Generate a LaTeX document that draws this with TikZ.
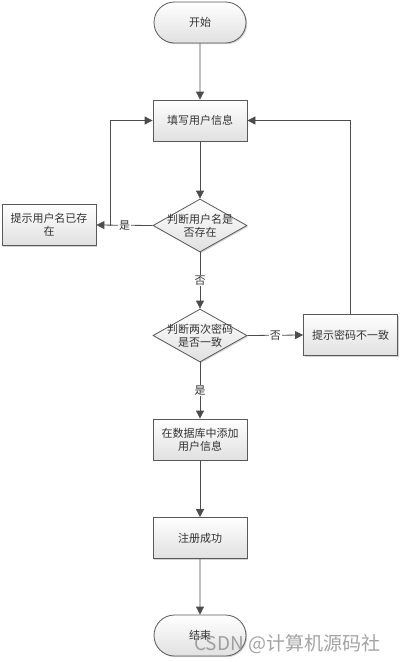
\documentclass[tikz,border=0pt]{standalone}
\usepackage{fontspec}
\setmainfont{Noto Sans CJK SC}
\usetikzlibrary{shapes.geometric,shapes.misc,arrows.meta,shadows}
\tikzset{
  base/.style={draw=black!65, line width=0.8pt, top color=white, bottom color=black!12,
    drop shadow={shadow xshift=1.2pt, shadow yshift=-1.2pt, opacity=0.35, fill=black!50},
    font=\fontsize{11}{13}\selectfont, align=center, inner sep=1pt, text=black!80},
  proc/.style={base, rectangle, minimum width=94pt, minimum height=41pt},
  term/.style={base, rounded rectangle, minimum width=94pt, minimum height=41pt},
  dec/.style={base, diamond, minimum width=94pt, minimum height=53pt, inner sep=0pt},
  txt/.style={font=\fontsize{11}{13}\selectfont, align=center, text=black!80},
  conn/.style={draw=black!70, line width=0.8pt, -{Triangle[length=8pt,width=8pt]}},
  lab/.style={fill=white, font=\fontsize{11}{13}\selectfont, text=black!80, inner sep=1pt},
}
\begin{document}
\begin{tikzpicture}[x=1pt,y=-1pt]
\useasboundingbox (0,0) rectangle (402,662);
\node[term] (start) at (200,22.5) {开始};
\node[proc] (fill) at (200,120.5) {填写用户信息};
\node[dec] (d1) at (200,225.5) {};
\node[txt] at (d1) {判断用户名是\\否存在};
\node[proc] (exist) at (49,225) {提示用户名已存\\在};
\node[dec] (d2) at (200,335.5) {};
\node[txt] at (d2) {判断两次密码\\是否一致};
\node[proc] (mismatch) at (350.5,335) {提示密码不一致};
\node[proc] (db) at (200,439.5) {在数据库中添加\\用户信息};
\node[proc] (ok) at (200,538) {注册成功};
\node[term] (end) at (200,635.5) {结束};
\coordinate (j1) at (110,225.5);

\draw[conn] (start) -- (fill);
\draw[conn] (fill) -- (d1);
\draw[conn] (d1.west) -- node[lab, pos=0.5] {是} (exist.east);
\draw[conn] (j1) |- (fill.west);
\draw[conn] (d1.south) -- node[lab, pos=0.5] {否} (d2.north);
\draw[conn] (d2.east) -- node[lab, pos=0.5] {否} (mismatch.west);
\draw[conn] (mismatch.north) |- (fill.east);
\draw[conn] (d2.south) -- node[lab, pos=0.5] {是} (db.north);
\draw[conn] (db) -- (ok);
\draw[conn] (ok) -- (end);

\node[anchor=west, text=black!45, opacity=0.8, font=\fontsize{19}{21}\selectfont, inner sep=0pt] (wm) at (194,644) {CSDN @计算机源码社};
\end{tikzpicture}
\end{document}
